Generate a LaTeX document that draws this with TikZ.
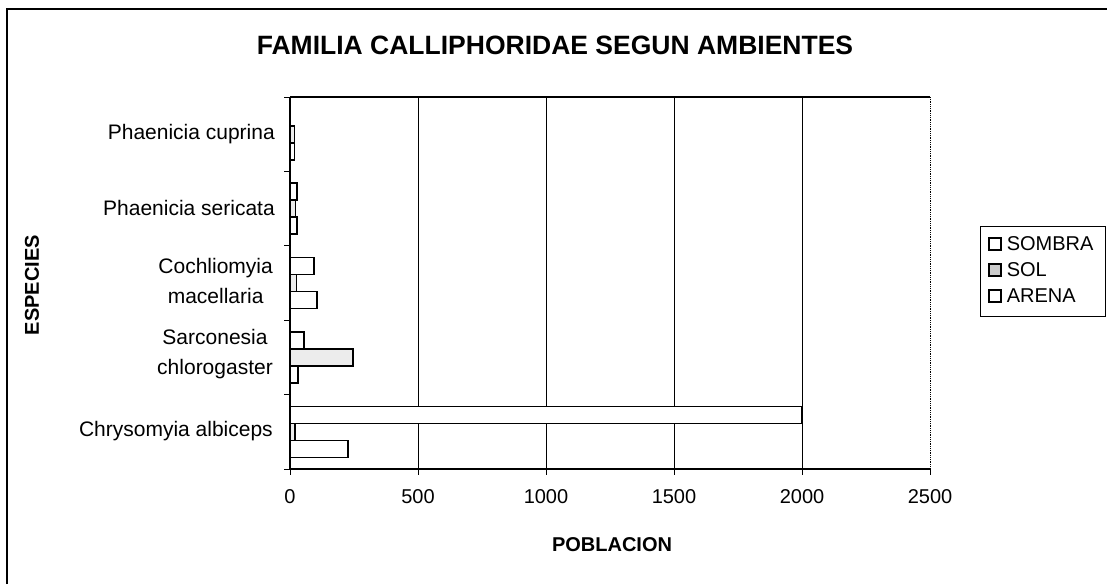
\documentclass[tikz,border=0pt]{standalone}
\usepackage{fontspec}
\setmainfont{Liberation Sans}
\usetikzlibrary{positioning}

\begin{document}
\begin{tikzpicture}[
		x=1pt,y=-1pt,
		ttl/.style={font=\fontsize{26.5}{30}\selectfont\bfseries,inner sep=0pt},
		axttl/.style={font=\fontsize{20}{24}\selectfont\bfseries,inner sep=0pt},
		lbl/.style={font=\fontsize{21}{30}\selectfont,align=center,inner sep=0pt},
		ticklbl/.style={font=\fontsize{20}{24}\selectfont,inner sep=0pt},
		keytxt/.style={font=\fontsize{20}{24}\selectfont,inner sep=0pt},
		bar/.style={draw=black,line width=1.6pt,fill=white},
		solbar/.style={bar,fill=gray!15},
		gridline/.style={draw=black,line width=0.8pt},
		keybox/.style={draw=black,line width=1.2pt,minimum size=12pt,inner sep=0pt}
	]
		\useasboundingbox (0,0) rectangle (1107,584);

		% outer frame (cut at right and bottom)
		\draw [line width=1.5pt] (7,584) -- (7,9) -- (1107,9);

		\node [ttl] (title) at (555,45) {FAMILIA CALLIPHORIDAE SEGUN AMBIENTES};

		% grid and plot area
		\foreach \v in {500,1000,1500,2000}
			\draw [gridline] ({290+0.256*\v},97) -- ({290+0.256*\v},469);
		\draw [densely dotted,line width=0.8pt] (930,97) -- (930,469);
		\draw [line width=2pt] (290,97) -- (930,97);

		% bars: sombra / sol / arena
		\foreach \i/\a/\b/\c [evaluate=\i as \cy using 134.2+74.4*\i] in
			{0/0/18/18, 1/27/22/27, 2/94/25/105, 3/55/246/32, 4/2000/20/226} {
			\draw [bar] (290,\cy-25.5) rectangle ({290+0.256*\a},\cy-8.5);
			\draw [solbar] (290,\cy-8.5) rectangle ({290+0.256*\b},\cy+8.5);
			\draw [bar] (290,\cy+8.5) rectangle ({290+0.256*\c},\cy+25.5);
		}

		% axes and ticks
		\draw [line width=1.6pt] (290,97) -- (290,469) -- (930,469);
		\foreach \i in {0,...,5}
			\draw [line width=1pt] (284,97+74.4*\i) -- (290,97+74.4*\i);
		\foreach \v in {0,500,1000,1500,2000,2500} {
			\draw [line width=1pt] ({290+0.256*\v},469) -- ({290+0.256*\v},475);
			\node [ticklbl] (tick\v) at ({290+0.256*\v},497) {\v};
		}

		% category labels
		\node [lbl,anchor=east] (cuprina) at (275,134) {Phaenicia cuprina};
		\node [lbl,anchor=east] (sericata) at (275,208) {Phaenicia sericata};
		\node [lbl,anchor=east] (cochliomyia) at (273,281) {Cochliomyia\\macellaria};
		\node [lbl,anchor=east] (sarconesia) at (273,354) {Sarconesia\\chlorogaster};
		\node [lbl,anchor=east] (chrysomyia) at (273,431) {Chrysomyia albiceps};

		\node [axttl,rotate=90] (especies) at (32,285) {ESPECIES};
		\node [axttl] (poblacion) at (612,545) {POBLACION};

		% legend
		\draw [line width=1pt] (1105,226) -- (980,226) -- (980,316) -- (1105,316) -- cycle;
		\node [keybox] (k_sombra) at (995,244) {};
		\node [keybox,fill=gray!40] (k_sol) at (995,270) {};
		\node [keybox] (k_arena) at (995,296) {};
		\node [keytxt,right=5pt of k_sombra] (t_sombra) {SOMBRA};
		\node [keytxt,right=5pt of k_sol] (t_sol) {SOL};
		\node [keytxt,right=5pt of k_arena] (t_arena) {ARENA};
	\end{tikzpicture}
\end{document}
